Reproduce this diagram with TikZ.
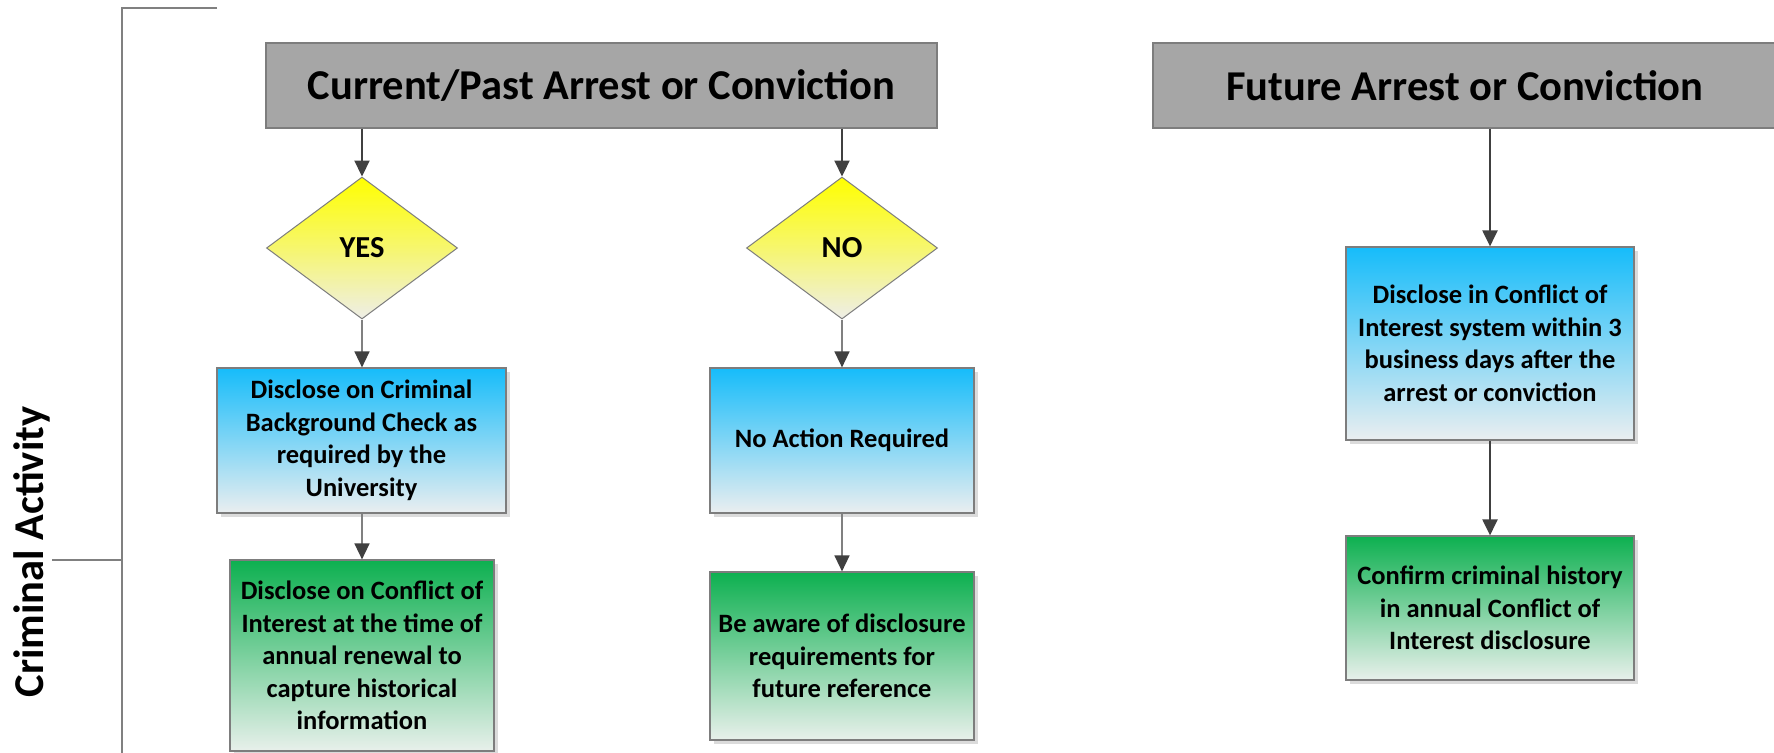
\documentclass[tikz,border=0pt]{standalone}
\usepackage{fontspec}
\setmainfont{Carlito}
\usetikzlibrary{shapes.geometric,arrows.meta,shadows}
\definecolor{edgegray}{RGB}{125,125,125}
\definecolor{hdrgray}{RGB}{166,166,166}
\definecolor{arrdark}{RGB}{64,64,64}
\definecolor{arrlight}{RGB}{128,128,128}
\definecolor{ytop}{RGB}{255,255,0}
\definecolor{ymid}{RGB}{246,246,110}
\definecolor{ybot}{RGB}{238,238,232}
\definecolor{btop}{RGB}{22,188,250}
\definecolor{bbot}{RGB}{234,238,240}
\definecolor{gtop}{RGB}{13,176,80}
\definecolor{gbot}{RGB}{232,240,235}
\begin{document}
\begin{tikzpicture}[x=1pt,y=-1pt,
  hdr/.style={rectangle, draw=edgegray, line width=1.2pt, fill=hdrgray, inner sep=0pt,
    font=\fontsize{42.5}{51}\selectfont\bfseries},
  dec/.style={diamond, draw=edgegray, line width=1pt, top color=ytop, bottom color=ybot, middle color=ymid,
    inner sep=0pt, font=\fontsize{30.5}{36}\selectfont\bfseries},
  card/.style={rectangle, draw=edgegray, line width=1.2pt, inner sep=0pt, align=center,
    font=\fontsize{26.5}{32.5}\selectfont\bfseries,
    drop shadow={shadow xshift=4pt, shadow yshift=-4pt, fill=black!14, opacity=1}},
  bluebox/.style={card, top color=btop, bottom color=bbot},
  greenbox/.style={card, top color=gtop, bottom color=gbot},
  darr/.style={draw=arrdark, line width=2.2pt, -{Triangle[width=15pt,length=16pt,color=arrdark]}},
  larr/.style={draw=arrlight, line width=1.5pt, -{Triangle[width=15pt,length=16pt,color=arrdark]}},
  brk/.style={draw=arrlight, line width=1.5pt}
]
\clip (0,0) rectangle (1774,752);
\fill[white] (0,0) rectangle (1774,752);

% bracket
\coordinate (brtop) at (122,8);
\coordinate (brend) at (217,8);
\coordinate (brbot) at (122,760);
\coordinate (brmid) at (122,560);
\coordinate (stub) at (52,560);
\draw[brk] (brend) -- (brtop) -- (brbot);
\draw[brk] (stub) -- (brmid);
\node[rotate=90, font=\fontsize{42.5}{51}\selectfont\bfseries] (lab) at (32,552) {Criminal Activity};

% headers
\node[hdr, minimum width=671pt, minimum height=85pt] (h1) at (601.5,85.5) {Current/Past Arrest or Conviction};
\node[hdr, minimum width=624pt, minimum height=85pt] (h2) at (1465,85.5) {Future Arrest or Conviction};

% decisions
\node[dec, minimum width=191pt, minimum height=142pt] (d1) at (362,248) {YES};
\node[dec, minimum width=191pt, minimum height=142pt] (d2) at (842,248) {NO};

% boxes
\node[bluebox, minimum width=289pt, minimum height=145pt] (b1) at (361.5,440.5)
  {Disclose on Criminal\\Background Check as\\required by the\\University};
\node[greenbox, minimum width=264pt, minimum height=191pt] (g1) at (362,655.5)
  {Disclose on Conflict of\\Interest at the time of\\annual renewal to\\capture historical\\information};
\node[bluebox, minimum width=264pt, minimum height=145pt] (b2) at (842,440.5)
  {No Action Required};
\node[greenbox, minimum width=264pt, minimum height=168pt] (g2) at (842,656)
  {Be aware of disclosure\\requirements for\\future reference};
\node[bluebox, minimum width=288pt, minimum height=193pt] (b3) at (1490,343.5)
  {Disclose in Conflict of\\Interest system within 3\\business days after the\\arrest or conviction};
\node[greenbox, minimum width=288pt, minimum height=144pt] (g3) at (1490,608)
  {Confirm criminal history\\in annual Conflict of\\Interest disclosure};

% connectors
\draw[darr] (h1.south -| d1.north) -- (d1.north);
\draw[darr] (h1.south -| d2.north) -- (d2.north);
\draw[larr] (d1.south) -- (b1.north -| d1.south);
\draw[larr] (d2.south) -- (b2.north -| d2.south);
\draw[larr] (b1.south -| g1.north) -- (g1.north);
\draw[larr] (b2.south) -- (g2.north);
\draw[darr] (h2.south -| b3.north) -- (b3.north);
\draw[darr] (b3.south) -- (g3.north);
\end{tikzpicture}
\end{document}
